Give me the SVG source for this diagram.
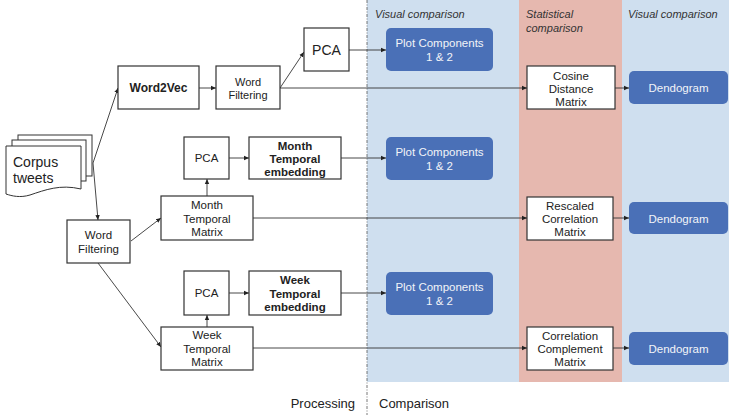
<svg xmlns="http://www.w3.org/2000/svg" width="729" height="415" viewBox="0 0 729 415">
<defs>
<marker id="ah" markerWidth="6" markerHeight="6" refX="5" refY="3" orient="auto" markerUnits="userSpaceOnUse">
<path d="M0,0.8 L5,3 L0,5.2 Z" fill="#222"/>
</marker>
<style>
text{font-family:"Liberation Sans",Arial,sans-serif;fill:#222;text-anchor:middle}
.box{fill:#fff;stroke:#333;stroke-width:1.2}
.blue{fill:#4a70b7;stroke:none}
.wt{fill:#f2f4f8;font-size:11.5px}
.b{font-weight:bold}
.hdr{font-style:italic;font-size:11px;text-anchor:start;fill:#333}
.cn line,.cn path{stroke:#333;stroke-width:0.9;fill:none;marker-end:url(#ah)}
</style>
</defs>
<rect x="0" y="0" width="729" height="415" fill="#fff"/>
<g id="bg">
<rect x="367" y="0" width="362" height="382" fill="#cfdfef"/>
<rect x="519" y="0" width="103" height="382" fill="#e6b8af"/>
<line x1="367" y1="0" x2="367" y2="415" stroke="#555" stroke-width="0.8" stroke-dasharray="3,1.5,1,1.5"/>
<text class="hdr" x="375" y="18">Visual comparison</text>
<text class="hdr" x="526" y="18">Statistical</text>
<text class="hdr" x="526" y="32">comparison</text>
<text class="hdr" x="628" y="18">Visual comparison</text>
<text x="355" y="408" font-size="13" style="text-anchor:end">Processing</text>
<text x="379" y="408" font-size="13" style="text-anchor:start">Comparison</text>
</g>
<g class="cn" id="connectors">
<line x1="93" y1="163" x2="118" y2="88"/>
<line x1="93" y1="163" x2="98" y2="220"/>
<line x1="199" y1="88" x2="216" y2="88"/>
<line x1="280" y1="88" x2="304" y2="52"/>
<line x1="349" y1="50" x2="386" y2="50"/>
<line x1="280" y1="88" x2="527" y2="88"/>
<line x1="615" y1="88" x2="629" y2="88"/>
<line x1="229" y1="158" x2="249" y2="158"/>
<line x1="341" y1="158" x2="386" y2="158"/>
<line x1="207" y1="196" x2="207" y2="179"/>
<line x1="131" y1="241" x2="161" y2="218"/>
<line x1="98" y1="263" x2="161" y2="347"/>
<line x1="253" y1="218" x2="527" y2="218"/>
<line x1="613" y1="218" x2="629" y2="218"/>
<line x1="207" y1="327" x2="207" y2="315"/>
<line x1="229" y1="293" x2="249" y2="293"/>
<line x1="341" y1="293" x2="386" y2="293"/>
<line x1="253" y1="348" x2="527" y2="348"/>
<line x1="613" y1="348" x2="629" y2="348"/>
</g>
<g id="corpus">
<rect x="18" y="135" width="74" height="41" fill="#fff" stroke="#333" stroke-width="1"/>
<rect x="12" y="140" width="74" height="41" fill="#fff" stroke="#333" stroke-width="1"/>
<path d="M6,146 H81 V189 C60,184 45,190 30,195 C20,198 12,196 6,194 Z" fill="#fff" stroke="#333" stroke-width="1"/>
<text x="13" y="167" font-size="14" style="text-anchor:start">Corpus</text>
<text x="13" y="183" font-size="14" style="text-anchor:start">tweets</text>
</g>
<g id="word2vec">
<rect class="box" x="118" y="66" width="81" height="43"/>
<text class="b" x="158.5" y="92" font-size="12">Word2Vec</text>
</g>
<g id="wordfilter1">
<rect class="box" x="216" y="66" width="64" height="43"/>
<text x="248" y="86" font-size="11">Word</text>
<text x="248" y="99" font-size="11">Filtering</text>
</g>
<g id="pca1">
<rect class="box" x="304" y="28" width="45" height="43"/>
<text x="326.5" y="55" font-size="14">PCA</text>
</g>
<g id="plot1">
<rect class="blue" x="386" y="28" width="107" height="43" rx="5"/>
<text class="wt" x="439.5" y="47">Plot Components</text>
<text class="wt" x="439.5" y="61">1 &amp; 2</text>
</g>
<g id="cosine">
<rect class="box" x="527" y="66" width="88" height="43"/>
<text x="571" y="80" font-size="11.5">Cosine</text>
<text x="571" y="93" font-size="11.5">Distance</text>
<text x="571" y="106" font-size="11.5">Matrix</text>
</g>
<g id="dendo1">
<rect class="blue" x="629" y="71" width="99" height="33" rx="5"/>
<text class="wt" x="678.5" y="92" font-size="12">Dendogram</text>
</g>
<g id="pca2">
<rect class="box" x="184" y="137" width="45" height="42"/>
<text x="206.5" y="162" font-size="11.5">PCA</text>
</g>
<g id="monthemb">
<rect class="box" x="249" y="137" width="92" height="42"/>
<text class="b" x="295" y="150" font-size="11.5">Month</text>
<text class="b" x="295" y="163" font-size="11.5">Temporal</text>
<text class="b" x="295" y="176" font-size="11.5">embedding</text>
</g>
<g id="plot2">
<rect class="blue" x="386" y="137" width="107" height="43" rx="5"/>
<text class="wt" x="439.5" y="156">Plot Components</text>
<text class="wt" x="439.5" y="170">1 &amp; 2</text>
</g>
<g id="wordfilter2">
<rect class="box" x="67" y="220" width="63" height="43"/>
<text x="98.5" y="239" font-size="11.5">Word</text>
<text x="98.5" y="253" font-size="11.5">Filtering</text>
</g>
<g id="monthmatrix">
<rect class="box" x="161" y="196" width="92" height="44"/>
<text x="207" y="209" font-size="11.5">Month</text>
<text x="207" y="223" font-size="11.5">Temporal</text>
<text x="207" y="236" font-size="11.5">Matrix</text>
</g>
<g id="rescaled">
<rect class="box" x="527" y="197" width="86" height="43"/>
<text x="570" y="210" font-size="11.5">Rescaled</text>
<text x="570" y="223" font-size="11.5">Correlation</text>
<text x="570" y="236" font-size="11.5">Matrix</text>
</g>
<g id="dendo2">
<rect class="blue" x="629" y="202" width="99" height="32" rx="5"/>
<text class="wt" x="678.5" y="223" font-size="12">Dendogram</text>
</g>
<g id="pca3">
<rect class="box" x="184" y="271" width="45" height="44"/>
<text x="206.5" y="297" font-size="11.5">PCA</text>
</g>
<g id="weekemb">
<rect class="box" x="249" y="271" width="92" height="44"/>
<text class="b" x="295" y="284" font-size="11.5">Week</text>
<text class="b" x="295" y="298" font-size="11.5">Temporal</text>
<text class="b" x="295" y="311" font-size="11.5">embedding</text>
</g>
<g id="plot3">
<rect class="blue" x="386" y="272" width="107" height="43" rx="5"/>
<text class="wt" x="439.5" y="291">Plot Components</text>
<text class="wt" x="439.5" y="305">1 &amp; 2</text>
</g>
<g id="weekmatrix">
<rect class="box" x="161" y="327" width="92" height="43"/>
<text x="207" y="339" font-size="11.5">Week</text>
<text x="207" y="353" font-size="11.5">Temporal</text>
<text x="207" y="366" font-size="11.5">Matrix</text>
</g>
<g id="complement">
<rect class="box" x="527" y="327" width="86" height="43"/>
<text x="570" y="340" font-size="11.5">Correlation</text>
<text x="570" y="353" font-size="11.5">Complement</text>
<text x="570" y="366" font-size="11.5">Matrix</text>
</g>
<g id="dendo3">
<rect class="blue" x="629" y="332" width="99" height="33" rx="5"/>
<text class="wt" x="678.5" y="353" font-size="12">Dendogram</text>
</g>
</svg>
